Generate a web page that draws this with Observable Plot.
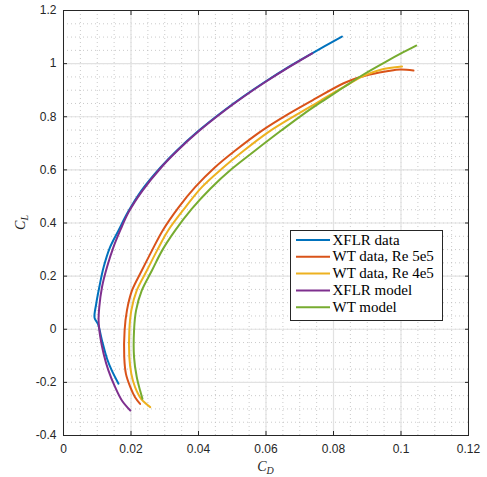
<!DOCTYPE html>
<html><head><meta charset="utf-8">
<script src="https://cdn.jsdelivr.net/npm/d3@7"></script>
<script src="https://cdn.jsdelivr.net/npm/@observablehq/plot@0.6"></script>
<style>
body{margin:0;background:#fff}
#chart{position:relative;width:487px;height:477px}
</style>
</head><body><div id="chart"></div>
<script>
// ---- data ----
const seriesNames = ["XFLR data", "WT data, Re 5e5", "WT data, Re 4e5", "XFLR model", "WT model"];
const seriesColors = ["#0072BD", "#D95319", "#EDB120", "#7E2F8E", "#77AC30"];

const xflrDataCD = [0.0163,0.0143,0.0129,0.0114,0.0102,0.0092,0.0097,0.0106,0.0119,0.0138,0.0163,0.0191,0.0231,0.0288,0.0336,0.0401,0.0469,0.0537,0.0595,0.0666,0.0734,0.0825];
const xflrDataCL = [-0.205,-0.155,-0.111,-0.042,0.020,0.043,0.096,0.158,0.234,0.309,0.372,0.441,0.522,0.610,0.673,0.748,0.817,0.880,0.930,0.987,1.037,1.102];

const wt5CD = [0.0227,0.0212,0.0198,0.0185,0.0180,0.0181,0.0188,0.0203,0.0232,0.0262,0.0294,0.0341,0.0390,0.0449,0.0509,0.0588,0.0667,0.0746,0.0830,0.0870,0.0919,0.0958,0.0998,0.1037];
const wt5CL = [-0.281,-0.256,-0.218,-0.168,-0.105,-0.005,0.071,0.146,0.221,0.296,0.372,0.459,0.535,0.610,0.673,0.748,0.811,0.868,0.926,0.946,0.962,0.971,0.978,0.974];

const wt4CD = [0.0257,0.0230,0.0212,0.0201,0.0195,0.0195,0.0201,0.0217,0.0247,0.0277,0.0310,0.0361,0.0410,0.0469,0.0529,0.0607,0.0687,0.0762,0.0838,0.0885,0.0940,0.1003];
const wt4CL = [-0.293,-0.262,-0.218,-0.168,-0.105,-0.005,0.071,0.146,0.221,0.296,0.372,0.459,0.535,0.604,0.667,0.742,0.805,0.861,0.918,0.951,0.977,0.989];

const xflrModelCD = [0.0198,0.0173,0.0153,0.0133,0.0119,0.0109,0.0104,0.0106,0.0114,0.0129,0.0148,0.0168,0.0193,0.0234,0.0290,0.0338,0.0403,0.0471,0.0539,0.0597,0.0668,0.0737];
const xflrModelCL = [-0.306,-0.268,-0.218,-0.155,-0.093,-0.030,0.033,0.083,0.158,0.234,0.309,0.372,0.441,0.522,0.610,0.673,0.748,0.817,0.880,0.930,0.987,1.039];

const wtModelCD = [0.0234,0.0227,0.0217,0.0209,0.0209,0.0215,0.0232,0.0262,0.0292,0.0331,0.0380,0.0435,0.0499,0.0568,0.0645,0.0712,0.0770,0.0830,0.0890,0.0952,0.1007,0.1045];
const wtModelCL = [-0.262,-0.231,-0.180,-0.105,-0.005,0.071,0.146,0.221,0.296,0.372,0.453,0.529,0.604,0.673,0.748,0.811,0.861,0.911,0.960,1.005,1.043,1.068];

const xTicks = [0, 0.02, 0.04, 0.06, 0.08, 0.1, 0.12];
const yTicks = [-0.4, -0.2, 0, 0.2, 0.4, 0.6, 0.8, 1, 1.2];
const xTickLabels = ["0", "0.02", "0.04", "0.06", "0.08", "0.1", "0.12"];
const yTickLabels = ["-0.4", "-0.2", "0", "0.2", "0.4", "0.6", "0.8", "1", "1.2"];
const xMinorStep = 0.005;
const yMinorStep = 0.05;

// ---- build tables ----
const seriesCD = [xflrDataCD, wt5CD, wt4CD, xflrModelCD, wtModelCD];
const seriesCL = [xflrDataCL, wt5CL, wt4CL, xflrModelCL, wtModelCL];
const tables = seriesNames.map((name, i) => seriesCD[i].map((cd, j) => ({series: name, cd, cl: seriesCL[i][j]})));
const xMinor = d3.range(0, 0.12 + 1e-9, xMinorStep);
const yMinor = d3.range(-0.4, 1.2 + 1e-9, yMinorStep);
const xFmt = d => xTickLabels[xTicks.findIndex(t => Math.abs(t - d) < 1e-9)];
const yFmt = d => yTickLabels[yTicks.findIndex(t => Math.abs(t - d) < 1e-9)];

const W = 487, H = 477, mL = 63, mR = 19, mT = 10, mB = 42;
const axisColor = "#262626";

const chart = Plot.plot({
  width: W, height: H,
  marginLeft: mL, marginRight: mR, marginTop: mT, marginBottom: mB,
  style: {fontFamily: "'Liberation Sans', Arial, sans-serif", fontSize: "12px", color: axisColor, background: "#fff"},
  x: {domain: [0, 0.12]},
  y: {domain: [-0.4, 1.2]},
  marks: [
    Plot.ruleX(xMinor, {stroke: "#bdbdbd", strokeDasharray: "1,3", strokeWidth: 0.8}),
    Plot.ruleY(yMinor, {stroke: "#bdbdbd", strokeDasharray: "1,3", strokeWidth: 0.8}),
    Plot.ruleX(xTicks, {stroke: "#e2e2e2", strokeWidth: 1.2}),
    Plot.ruleY(yTicks, {stroke: "#e2e2e2", strokeWidth: 1.2}),
    ...tables.map((t, i) => Plot.line(t, {x: "cd", y: "cl", stroke: seriesColors[i], strokeWidth: 2, curve: "catmull-rom"})),
    Plot.frame({stroke: axisColor, strokeWidth: 1}),
    // inward tick marks on all four sides
    Plot.axisX(xTicks, {anchor: "bottom", tickSize: 4, dy: -4, tickFormat: () => "", label: null, stroke: axisColor}),
    Plot.axisX(xTicks, {anchor: "top", tickSize: 4, dy: 4, tickFormat: () => "", label: null, stroke: axisColor}),
    Plot.axisY(yTicks, {anchor: "left", tickSize: 4, dx: 4, tickFormat: () => "", label: null, stroke: axisColor}),
    Plot.axisY(yTicks, {anchor: "right", tickSize: 4, dx: -4, tickFormat: () => "", label: null, stroke: axisColor}),
    // tick labels
    Plot.axisX(xTicks, {anchor: "bottom", tickSize: 0, tickPadding: 9, tickFormat: xFmt, label: null, fill: axisColor}),
    Plot.axisY(yTicks, {anchor: "left", tickSize: 0, tickPadding: 7, tickFormat: yFmt, label: null, fill: axisColor})
  ]
});
document.getElementById("chart").appendChild(chart);

// ---- axis labels (LaTeX-like italic with subscripts) and legend ----
const svg = d3.select(chart);
const serif = "'Liberation Serif', 'DejaVu Serif', serif";
const xl = svg.append("text").attr("x", (mL + W - mR) / 2).attr("y", H - 6)
  .attr("text-anchor", "middle").attr("font-family", serif).attr("font-size", 14).attr("font-style", "italic").attr("fill", axisColor);
xl.append("tspan").text("C");
xl.append("tspan").attr("dy", 3).attr("font-size", 10).text("D");
const yl = svg.append("text").attr("transform", `translate(25,${(mT + H - mB) / 2}) rotate(-90)`)
  .attr("text-anchor", "middle").attr("font-family", serif).attr("font-size", 14).attr("font-style", "italic").attr("fill", axisColor);
yl.append("tspan").text("C");
yl.append("tspan").attr("dy", 3).attr("font-size", 10).text("L");

const lg = svg.append("g").attr("transform", "translate(290.5,230.5)");
lg.append("rect").attr("width", 152).attr("height", 90).attr("fill", "#fff").attr("stroke", axisColor).attr("stroke-width", 1);
seriesNames.forEach((name, i) => {
  const y = 9.5 + i * 16.8;
  lg.append("line").attr("x1", 5.5).attr("x2", 39.5).attr("y1", y).attr("y2", y).attr("stroke", seriesColors[i]).attr("stroke-width", 2);
  lg.append("text").attr("x", 42).attr("y", y + 4.5).attr("text-anchor", "start").attr("font-family", serif).attr("font-size", 15).attr("fill", "#000").text(name);
});
</script>
</body></html>
